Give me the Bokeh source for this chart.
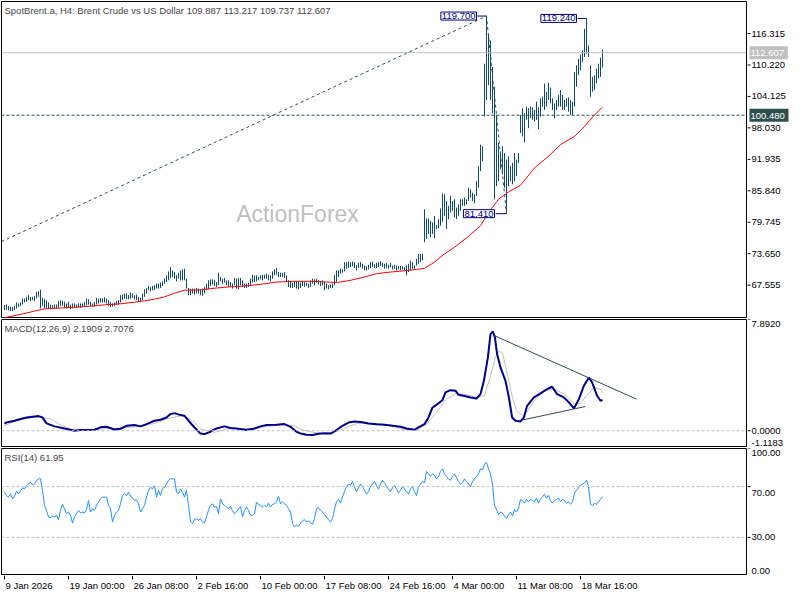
import numpy as np
from bokeh.plotting import figure
from bokeh.models import Range1d, Span, Label, ColumnDataSource
from bokeh.layouts import column, row
from bokeh.core.properties import value
from bokeh.embed import file_html
from bokeh.resources import INLINE

# ---------------- data ----------------
symbol_title = "SpotBrent.a, H4:  Brent Crude vs US Dollar"
last_ohlc = [109.887, 113.217, 109.737, 112.607]
level_price = 100.480
macd_last = (2.1909, 2.7076)
rsi_last = 61.95

tick_bars = [0, 32, 64, 96, 128, 160, 192, 224, 256, 288]
tick_labels = ["9 Jan 2026", "19 Jan 00:00", "26 Jan 08:00", "2 Feb 16:00", "10 Feb 00:00",
               "17 Feb 08:00", "24 Feb 16:00", "4 Mar 00:00", "11 Mar 08:00", "18 Mar 16:00"]
price_ticks = [67.555, 73.650, 79.745, 85.840, 91.935, 98.030, 104.125, 110.220, 116.315]
macd_scale = (-1.1183, 7.8920)
rsi_levels = [30, 70]

high = [63.69, 63.81, 63.49, 63.37, 63.30, 63.56, 64.20, 64.01, 64.20, 64.97,
        64.97, 65.29, 65.61, 65.29, 65.29, 65.42, 66.25, 66.38, 66.70, 65.10,
        64.84, 64.65, 64.20, 63.81, 63.69, 63.81, 63.81, 64.46, 64.65, 64.52,
        64.33, 64.01, 64.33, 63.81, 64.01, 64.01, 63.81, 64.01, 64.01, 64.01,
        64.33, 64.97, 64.84, 64.33, 64.01, 64.33, 65.10, 64.97, 65.10, 64.97,
        65.22, 64.97, 64.65, 64.33, 64.01, 64.20, 64.46, 64.65, 65.61, 65.74,
        65.93, 65.93, 65.61, 66.12, 65.93, 65.61, 65.74, 65.29, 65.10, 65.93,
        66.76, 67.02, 67.40, 67.21, 67.40, 67.53, 67.85, 67.85, 68.05, 68.30,
        68.81, 69.46, 70.22, 71.06, 70.42, 70.10, 69.46, 69.97, 70.42, 70.61,
        70.74, 68.81, 67.02, 66.89, 66.89, 66.89, 67.02, 66.89, 66.76, 66.89,
        67.21, 67.85, 68.49, 68.69, 68.69, 68.49, 68.17, 69.97, 69.14, 68.81,
        68.94, 68.49, 68.49, 68.17, 67.85, 68.94, 68.81, 68.94, 68.94, 68.49,
        67.85, 67.85, 68.05, 68.81, 69.58, 69.46, 69.46, 69.14, 69.46, 69.58,
        69.58, 69.78, 69.58, 69.46, 70.22, 70.61, 70.87, 70.10, 69.97, 69.97,
        70.10, 69.46, 68.49, 68.17, 68.05, 68.30, 68.17, 68.17, 68.05, 68.30,
        68.17, 68.05, 67.85, 68.49, 68.81, 68.69, 68.81, 68.49, 68.17, 68.49,
        68.17, 67.85, 67.53, 67.66, 67.85, 69.46, 70.42, 70.42, 70.74, 70.61,
        72.02, 72.02, 72.15, 72.02, 72.15, 72.02, 71.38, 71.89, 72.02, 71.70,
        71.38, 71.25, 71.51, 72.02, 72.15, 71.70, 71.89, 72.02, 72.15, 71.89,
        71.70, 71.89, 71.51, 71.89, 71.38, 71.51, 71.38, 71.25, 71.25, 71.19,
        71.06, 71.38, 71.70, 72.34, 72.02, 71.38, 72.66, 73.62, 73.62, 73.62,
        82.28, 80.48, 80.48, 80.03, 79.71, 80.99, 79.20, 80.35, 82.40, 85.35,
        85.16, 83.88, 82.92, 84.84, 83.88, 84.20, 82.60, 83.24, 84.20, 84.20,
        84.52, 84.20, 86.44, 86.12, 85.48, 85.16, 87.72, 90.61, 94.78, 94.46,
        110.48, 119.70, 116.25, 114.97, 109.84, 106.01, 100.54, 95.10, 93.49, 94.46,
        93.17, 91.89, 92.53, 90.61, 91.25, 93.17, 91.89, 93.17, 100.54, 101.83,
        100.86, 102.15, 101.83, 102.15, 102.02, 101.51, 103.11, 102.02, 103.75, 104.07,
        106.63, 105.03, 106.76, 105.87, 103.75, 102.79, 103.43, 104.39, 105.35, 104.39,
        103.43, 103.75, 103.94, 103.43, 103.11, 108.88, 110.16, 111.44, 112.27, 113.04,
        117.21, 119.24, 114.01, 110.16, 107.92, 108.24, 109.52, 110.48, 111.63, 113.217]

low = [62.72, 62.72, 62.66, 62.53, 62.53, 62.72, 63.05, 63.37, 63.49, 63.81,
       64.20, 64.33, 64.65, 64.46, 64.65, 64.46, 64.97, 65.29, 63.05, 63.56,
       63.05, 63.17, 62.92, 62.92, 63.05, 63.05, 63.05, 63.17, 63.56, 63.56,
       63.17, 63.05, 63.17, 62.92, 63.05, 63.17, 63.17, 63.30, 63.17, 63.37,
       63.37, 63.69, 63.81, 63.49, 63.37, 63.37, 63.81, 64.01, 64.20, 64.20,
       64.20, 64.01, 63.56, 63.37, 63.37, 63.56, 63.69, 63.81, 64.20, 64.65,
       64.97, 64.84, 64.84, 64.97, 65.10, 64.78, 64.65, 64.46, 64.33, 64.65,
       65.29, 65.93, 66.57, 66.38, 66.57, 66.57, 66.89, 66.89, 67.02, 67.40,
       67.85, 68.17, 68.49, 68.94, 69.14, 68.81, 68.30, 68.81, 68.49, 68.49,
       68.49, 66.89, 65.61, 65.61, 65.93, 65.74, 65.93, 65.93, 65.61, 65.48,
       65.93, 66.57, 66.76, 67.40, 67.66, 67.40, 67.21, 67.53, 68.30, 67.85,
       68.05, 67.53, 67.21, 67.21, 66.89, 67.53, 66.89, 66.76, 67.53, 67.21,
       67.02, 67.02, 67.21, 67.40, 68.05, 68.17, 68.30, 68.49, 68.69, 68.49,
       68.81, 68.81, 68.49, 68.30, 68.81, 69.46, 69.58, 69.14, 69.14, 69.14,
       68.94, 68.17, 67.21, 67.02, 67.02, 67.21, 66.89, 66.76, 67.02, 67.40,
       67.21, 67.40, 67.02, 67.21, 67.85, 67.53, 68.05, 67.66, 67.40, 67.53,
       66.57, 66.89, 66.76, 67.02, 67.02, 67.53, 68.17, 69.14, 69.78, 69.97,
       70.22, 70.74, 70.87, 71.06, 71.25, 70.87, 70.42, 70.87, 71.06, 70.74,
       70.42, 70.42, 70.61, 70.87, 71.06, 70.87, 70.87, 71.06, 71.25, 71.06,
       70.74, 70.87, 70.74, 71.06, 70.61, 70.74, 70.42, 70.61, 70.42, 70.61,
       70.42, 69.45, 70.10, 70.42, 70.74, 70.61, 71.38, 71.70, 72.02, 72.34,
       75.86, 76.51, 77.47, 76.83, 77.47, 76.63, 78.43, 78.56, 79.07, 79.84,
       80.99, 78.43, 80.35, 81.63, 81.96, 80.67, 80.35, 80.99, 81.96, 82.92,
       82.92, 83.24, 83.88, 84.52, 83.88, 83.43, 84.84, 86.44, 89.65, 91.57,
       100.22, 103.43, 106.31, 103.43, 100.86, 84.20, 86.76, 87.72, 89.97, 89.01,
       86.44, 81.41, 86.76, 87.72, 87.08, 87.72, 88.69, 91.25, 97.02, 96.38,
       95.22, 99.58, 97.98, 99.90, 99.58, 99.26, 99.58, 97.79, 100.22, 102.15,
       101.51, 102.15, 103.43, 102.79, 101.51, 99.90, 101.51, 102.15, 102.15, 101.51,
       101.51, 102.15, 101.19, 100.54, 100.54, 102.15, 105.99, 108.24, 109.20, 110.80,
       111.76, 112.40, 111.76, 104.07, 105.03, 105.35, 106.63, 107.60, 107.92, 109.737]

ma_bar = [0, 8, 15, 20, 27, 36, 45, 50, 58, 65, 70, 75, 80, 85, 90, 98, 103, 112, 120, 128,
          136, 145, 153, 161, 166, 173, 180, 186, 193, 200, 206, 210, 215, 220, 225, 232, 238,
          242, 247, 252, 258, 265, 272, 278, 285, 290, 295, 299]
ma_val = [61.25, 61.89, 62.53, 62.98, 63.11, 63.30, 63.56, 63.75, 63.94, 64.26, 64.52, 64.84,
          65.29, 65.99, 66.57, 66.63, 66.89, 67.21, 67.40, 67.72, 68.17, 68.30, 68.30, 68.17,
          68.05, 68.49, 69.14, 69.78, 70.10, 70.35, 70.60, 70.80, 72.02, 73.62, 74.90, 77.02,
          79.07, 81.63, 84.20, 85.61, 86.89, 90.29, 92.53, 94.78, 96.38, 98.30, 100.54, 102.02]

macd_bar = [0, 1, 5, 8, 11, 15, 17, 19, 21, 25, 30, 35, 38, 45, 48, 51, 55, 58, 61, 65, 68, 71,
            75, 78, 81, 83, 85, 88, 90, 92, 95, 98, 100, 103, 106, 110, 113, 116, 121, 125, 128,
            131, 136, 140, 143, 146, 148, 151, 154, 157, 160, 163, 166, 169, 172, 175, 178, 182,
            186, 190, 194, 198, 201, 205, 207, 210, 212, 214, 216, 219, 220.5, 223, 225.5, 227,
            230, 233, 236, 238, 239.7, 241.7, 243, 244.2, 245.2, 246.3, 248, 250.5, 252.2, 253.8,
            255.5, 258, 259.7, 261.3, 264.7, 268, 271.3, 273.8, 276.3, 279.7, 282.2, 284.7, 287.2,
            289.7, 292.2, 293.8, 296.3, 298, 299]
macd_val = [0.50, 0.59, 0.71, 0.83, 0.94, 1.01, 1.04, 0.94, 0.52, 0.31, 0.16, 0.00, 0.05, 0.07,
            0.24, 0.28, 0.09, 0.14, 0.35, 0.40, 0.31, 0.47, 0.71, 0.78, 0.94, 1.18, 1.25, 1.11,
            1.06, 0.71, 0.23, -0.19, -0.24, -0.07, 0.16, 0.31, 0.19, 0.16, 0.05, 0.16, 0.31, 0.40,
            0.42, 0.47, 0.28, -0.07, -0.19, -0.28, -0.30, -0.22, -0.18, -0.20, 0.05, 0.35, 0.58,
            0.66, 0.62, 0.52, 0.46, 0.42, 0.36, 0.28, 0.16, 0.07, 0.23, 0.47, 0.94, 1.65, 1.84,
            2.17, 2.72, 2.88, 2.84, 2.55, 2.46, 2.36, 2.29, 2.60, 3.54, 5.20, 6.85, 7.04, 6.62,
            5.44, 4.49, 3.54, 2.36, 0.94, 0.71, 0.66, 0.94, 1.77, 2.36, 2.65, 2.95, 3.12, 2.60,
            2.36, 2.01, 1.58, 2.24, 3.19, 3.78, 3.43, 2.48, 2.13, 2.19]

sig_bar = [0, 5, 11, 18, 23, 28, 33, 40, 48, 55, 61, 68, 75, 81, 88, 91, 95, 98, 105, 111, 118,
           125, 131, 140, 145, 148, 152, 156, 160, 164, 168, 172, 176, 180, 185, 190, 194, 198,
           206, 211, 216, 221, 226, 231, 236, 240, 243, 245.5, 247, 249, 251, 254, 256, 259, 261,
           265, 270, 275, 280, 285, 288, 291, 295, 298, 299]
sig_val = [0.35, 0.66, 0.87, 0.99, 0.83, 0.42, 0.12, 0.05, 0.12, 0.16, 0.23, 0.31, 0.52, 0.83,
           1.06, 0.99, 0.59, 0.12, -0.12, 0.12, 0.16, 0.16, 0.31, 0.42, 0.35, 0.12, -0.05, -0.15,
           -0.20, -0.15, 0.05, 0.30, 0.50, 0.55, 0.50, 0.45, 0.38, 0.12, 0.05, 0.47, 1.30, 2.24,
           2.65, 2.55, 2.36, 2.48, 3.90, 5.20, 5.62, 5.55, 4.25, 2.36, 1.42, 1.06, 1.30, 2.13,
           2.84, 2.95, 2.60, 1.89, 1.94, 2.48, 3.07, 2.95, 2.71]

rsi = [65.6, 63.0, 61.7, 64.3, 60.4, 62.3, 66.4, 64.3, 66.9, 69.0, 68.2, 70.8, 72.2, 73.5, 71.6,
       72.2, 74.8, 76.1, 76.1, 66.9, 55.2, 51.3, 46.1, 45.6, 46.6, 46.1, 47.4, 44.0, 51.3, 56.0,
       52.6, 48.7, 50.0, 47.4, 41.4, 46.1, 48.7, 51.3, 49.2, 50.0, 49.2, 51.8, 59.1, 50.0, 52.6,
       51.3, 55.2, 57.8, 60.4, 61.7, 61.7, 61.7, 55.2, 52.6, 42.2, 47.4, 50.0, 51.3, 56.5, 63.0,
       64.3, 63.0, 65.6, 62.3, 61.2, 59.1, 59.6, 56.5, 50.0, 52.6, 55.2, 61.7, 66.9, 69.5, 68.2,
       70.8, 61.7, 66.9, 63.0, 68.2, 69.5, 72.2, 74.8, 76.1, 76.1, 76.1, 65.6, 64.3, 68.2, 65.6,
       61.7, 66.9, 55.2, 42.2, 40.9, 44.0, 44.8, 43.5, 44.8, 42.2, 41.4, 46.1, 51.3, 55.2, 56.5,
       53.9, 54.4, 48.7, 60.4, 56.5, 55.2, 53.9, 52.6, 54.4, 50.8, 48.7, 50.0, 52.6, 54.4, 46.1,
       51.3, 53.9, 51.3, 47.4, 47.4, 48.7, 57.8, 56.0, 55.2, 53.9, 55.2, 53.9, 57.0, 53.9, 56.0,
       56.5, 57.8, 62.3, 56.5, 57.8, 56.5, 55.2, 52.6, 50.0, 40.9, 38.3, 39.6, 38.8, 41.4, 43.0,
       44.0, 42.2, 43.0, 41.4, 40.4, 44.8, 52.6, 53.4, 51.3, 50.0,
       48, 46, 44, 42, 45, 52, 58, 60, 57, 62, 66,
       70, 72, 71, 74, 70, 66, 69, 72, 70, 67, 64, 66, 70, 72, 74, 71, 68, 72, 75, 73, 70, 68, 66,
       69, 71, 68, 65, 67, 70, 68,
       66, 64, 68, 70, 66, 63, 70, 72, 74, 73,
       82, 80, 78, 80, 79, 76, 78, 82, 84, 80, 78, 76, 75, 78, 80, 77, 74, 72, 73, 76, 74, 72, 70,
       74, 76, 78, 80, 84, 83, 88,
       89, 84, 80, 72, 55, 52, 48, 50, 49, 47,
       45, 48, 50, 47, 52, 50, 53, 60, 59, 57, 60, 58, 60, 59, 58, 61, 57, 60, 62, 64, 61, 63, 59,
       57, 59, 60, 61, 58, 60, 59, 57, 58, 56, 58, 65,
       67, 69, 71, 72, 73, 75, 70, 56, 55, 57, 56, 58, 60, 62]

# analysis drawings (trend line start + MACD trend lines)
trend_start = (-1.5, 76.0)
macd_upper = ([245.2, 316.0], [6.73, 2.24])
macd_lower = ([258.9, 290.5], [0.76, 1.72])

# ---------------- styling ----------------
FONT = "Liberation Sans"
FS = "9.5px"
BAR_COLOR = "#0e4a6b"
DARK = "#2f4f4f"
SILVER = "#c0c0c0"
NAVY = "#000080"

FW = 745          # plot frame width
PW = FW + 2       # plot figure width (1px border both sides)
AW = 43           # right price-scale strip width
X0 = -1.5
xr = Range1d(X0, X0 + FW / 2.0)


def panel(height, yr, top, bottom):
    y_range = Range1d(*yr)
    p = figure(width=PW, height=height, x_range=xr, y_range=y_range,
               output_backend="svg", toolbar_location=None,
               x_axis_location=None, y_axis_location=None,
               min_border_left=1, min_border_right=1,
               min_border_top=top, min_border_bottom=bottom)
    p.grid.visible = False
    p.outline_line_color = "black"
    p.outline_line_width = 1
    p.background_fill_color = "white"
    p.border_fill_color = "white"
    a = figure(width=AW, height=height, x_range=Range1d(0, AW), y_range=y_range,
               output_backend="svg", toolbar_location=None,
               x_axis_location=None, y_axis_location=None,
               min_border_left=0, min_border_right=0,
               min_border_top=top, min_border_bottom=bottom)
    a.grid.visible = False
    a.outline_line_color = None
    a.background_fill_color = "white"
    a.border_fill_color = "white"
    return p, a


def scale_ticks(a, ticks):
    a.segment(x0=[0] * len(ticks), y0=ticks, x1=[3] * len(ticks), y1=ticks,
              line_color="black", line_width=1)


def scale_text(a, ys, texts, baseline="middle", dy=0):
    a.text(x=[4] * len(ys), y=ys, text=texts, text_font=value(FONT),
           text_font_size=value(FS), text_align="left", text_baseline=baseline,
           text_color="black", y_offset=dy)


def scale_box(a, y, text, bg):
    a.add_layout(Label(x=1, y=y, text=text + " ", text_font=FONT, text_font_size=FS,
                       text_color="white", text_align="left", text_baseline="middle",
                       background_fill_color=bg, padding=1, x_offset=1))


def title(p, y, text):
    p.add_layout(Label(x=X0, y=y, x_offset=3, y_offset=-3, text=text, text_font=FONT,
                       text_font_size=FS, text_align="left", text_baseline="top"))


idx = list(range(len(high)))
src = ColumnDataSource(dict(i=idx, high=high, low=low))

# ---------------- main price panel ----------------
p1, a1 = panel(318, (61.29, 122.52), 1, 1)

p1.add_layout(Label(x=146.5, y=81.4, text="ActionForex", text_font=FONT, text_font_size="23px",
                    text_color="#c0c0c0", text_align="center", text_baseline="middle",
                    level="underlay"))
p1.add_layout(Span(location=last_ohlc[3], dimension="width", line_color=SILVER, line_width=1))
p1.add_layout(Span(location=level_price, dimension="width", line_color=DARK, line_width=1,
                   line_dash="3 2"))

p1.segment(x0="i", y0="low", x1="i", y1="high", source=src, line_color=BAR_COLOR, line_width=1)
p1.line(ma_bar, ma_val, line_color="#ff0000", line_width=1)

hi_arr = np.array(high)
lo_arr = np.array(low)
i_hi = int(np.argmax(hi_arr[:270]))
i_hi2 = 270 + int(np.argmax(hi_arr[270:]))
i_lo = i_hi + int(np.argmin(lo_arr[i_hi:270]))

p1.line([trend_start[0], i_hi, i_lo], [trend_start[1], high[i_hi], low[i_lo]],
        line_color=DARK, line_width=1, line_dash="3 3")

for bi, val in ((i_hi, high[i_hi]), (i_hi2, high[i_hi2]), (i_lo, low[i_lo])):
    gap = 5.5 if bi == i_lo else 4.5
    p1.segment(x0=[bi - gap], y0=[val], x1=[bi], y1=[val], line_color=NAVY, line_width=1)
    p1.add_layout(Label(x=bi - gap, y=val, text=f"{val:.3f}", text_font=FONT, text_font_size=FS,
                        text_color=NAVY, text_align="right", text_baseline="middle",
                        background_fill_color="white", border_line_color=NAVY,
                        border_line_width=1, padding=1, x_offset=-1))

title(p1, 122.52, symbol_title + "  " + " ".join(f"{v:.3f}" for v in last_ohlc))

scale_ticks(a1, price_ticks)
scale_text(a1, price_ticks, [f"{t:.3f}" for t in price_ticks])
scale_box(a1, last_ohlc[3], f"{last_ohlc[3]:.3f}", SILVER)
scale_box(a1, level_price, f"{level_price:.3f}", DARK)

# ---------------- MACD panel ----------------
p2, a2 = panel(129, macd_scale, 1, 1)
p2.add_layout(Span(location=0, dimension="width", line_color=SILVER, line_dash="3 2"))
p2.line(sig_bar, sig_val, line_color=SILVER, line_width=1)
p2.line(macd_bar, macd_val, line_color="#00008b", line_width=2)
p2.line(*macd_upper, line_color=DARK, line_width=1)
p2.line(*macd_lower, line_color=DARK, line_width=1)
title(p2, macd_scale[1], f"MACD(12,26,9) {macd_last[0]:.4f} {macd_last[1]:.4f}")
scale_ticks(a2, [macd_scale[1], 0.0])
scale_text(a2, [macd_scale[1]], [f"{macd_scale[1]:.4f}"], baseline="top", dy=1)
scale_text(a2, [0.0], ["0.0000"])
scale_text(a2, [macd_scale[0]], [f"{macd_scale[0]:.4f}"], baseline="bottom", dy=-1)

# ---------------- RSI panel ----------------
p3, a3 = panel(128, (0, 100), 1, 0)
for lv in rsi_levels:
    p3.add_layout(Span(location=lv, dimension="width", line_color=SILVER, line_dash="3 2"))
p3.line(idx, rsi, line_color="#1e90ff", line_width=1)
title(p3, 100, f"RSI(14) {rsi_last:.2f}")
scale_ticks(a3, [100, 70, 30, 0])
scale_text(a3, [100], ["100.00"], baseline="top", dy=1)
scale_text(a3, [70], ["70.00"], baseline="top", dy=3)
scale_text(a3, [30], ["30.00"])
scale_text(a3, [0], ["0.00"], baseline="bottom", dy=-2)

# ---------------- time scale strip ----------------
SH = 17
px = figure(width=PW, height=SH, x_range=xr, y_range=Range1d(SH, 0),
            output_backend="svg", toolbar_location=None,
            x_axis_location=None, y_axis_location=None,
            min_border_left=1, min_border_right=1, min_border_top=0, min_border_bottom=0)
px.grid.visible = False
px.outline_line_color = None
px.background_fill_color = "white"
px.border_fill_color = "white"
px.segment(x0=tick_bars, y0=[0] * len(tick_bars), x1=tick_bars, y1=[4] * len(tick_bars),
           line_color="black", line_width=1)
px.text(x=tick_bars, y=[4] * len(tick_bars), text=tick_labels, text_font=value(FONT),
        text_font_size=value(FS), text_align="left", text_baseline="top", x_offset=1,
        text_color="black")
pad = figure(width=AW, height=SH, output_backend="svg", toolbar_location=None,
             x_axis_location=None, y_axis_location=None, min_border=0)
pad.outline_line_color = None
pad.grid.visible = False

layout = column(row(p1, a1, spacing=0), row(p2, a2, spacing=0), row(p3, a3, spacing=0),
                row(px, pad, spacing=0), spacing=0)
open("out.html", "w").write(file_html(layout, INLINE))
